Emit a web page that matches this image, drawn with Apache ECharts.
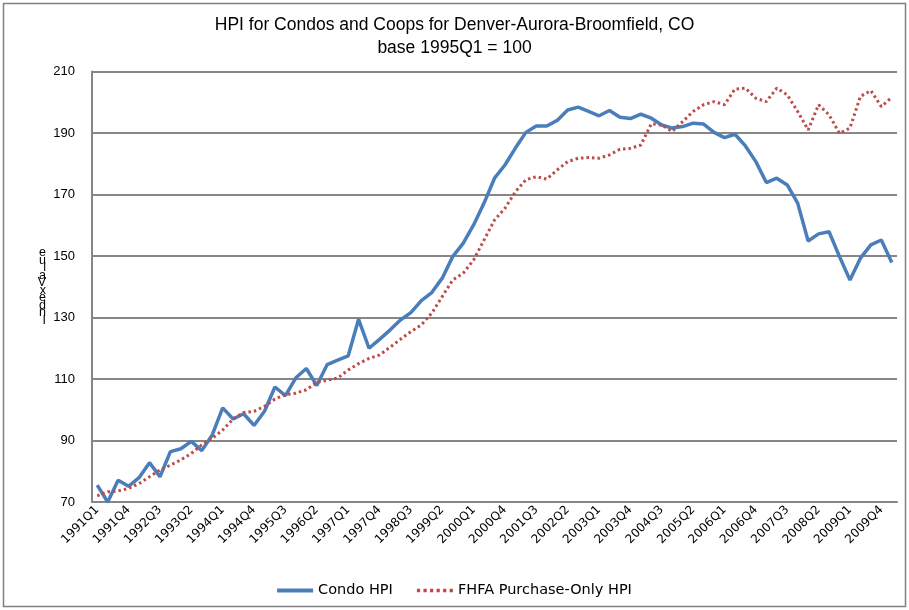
<!DOCTYPE html>
<html>
<head>
<meta charset="utf-8">
<script src="https://cdn.jsdelivr.net/npm/echarts@6/dist/echarts.min.js"></script>
<style>
  html, body { margin: 0; padding: 0; background: #fff; }
  #chart { width: 909px; height: 610px; }
</style>
</head>
<body>
<div id="chart"></div>
<script>
// quarters 1991Q1 .. 2010Q1
var quarters = [];
for (var y = 1991; y <= 2010; y++) {
  for (var q = 1; q <= 4; q++) {
    if (y === 2010 && q > 1) break;
    quarters.push(y + 'Q' + q);
  }
}

var condoHpi = [
  75.5, 70.0, 77.1, 75.1, 77.9, 82.8, 78.2, 86.4, 87.3, 89.7,
  86.7, 91.8, 100.6, 97.0, 98.7, 94.9, 99.5, 107.4, 104.6, 110.4,
  113.4, 107.9, 114.7, 116.1, 117.5, 129.4, 120.0, 122.9, 125.9, 129.2,
  131.6, 135.5, 138.1, 142.8, 149.8, 154.1, 160.1, 167.2, 175.3, 179.6,
  185.1, 190.2, 192.3, 192.3, 194.1, 197.5, 198.4, 197.0, 195.6, 197.3,
  195.1, 194.7, 196.1, 194.8, 192.6, 191.6, 192.1, 193.2, 192.9, 190.2,
  188.5, 189.6, 185.8, 180.7, 173.9, 175.3, 173.1, 167.2, 154.9, 157.2,
  157.9, 149.8, 142.2, 149.3, 153.6, 155.2, 147.9
];

var fhfaHpi = [
  72.0, 73.3, 73.6, 74.4, 76.0, 78.2, 80.4, 82.0, 83.7, 85.8,
  88.6, 90.7, 93.4, 97.0, 99.1, 99.5, 101.1, 103.5, 104.9, 105.4,
  106.5, 108.9, 109.6, 110.3, 112.9, 115.0, 116.7, 117.8, 120.3, 122.9,
  125.4, 127.6, 131.4, 136.8, 142.2, 144.4, 148.7, 155.2, 161.7, 165.5,
  170.9, 174.8, 175.8, 175.0, 178.0, 180.7, 181.8, 182.0, 181.8, 182.9,
  184.7, 185.0, 186.1, 193.0, 192.6, 190.5, 193.7, 197.0, 199.2, 200.2,
  199.2, 204.3, 204.6, 201.3, 200.2, 204.6, 202.4, 197.0, 191.0, 199.2,
  195.9, 189.9, 191.6, 201.9, 203.8, 198.6, 201.6
];

var yTicks = [70, 90, 110, 130, 150, 170, 190, 210];

var chart = echarts.init(document.getElementById('chart'));

chart.setOption({
  animation: false,
  backgroundColor: '#fff',
  graphic: [{
    type: 'rect',
    shape: { x: 3.5, y: 3.5, width: 902, height: 603 },
    style: { fill: 'none', stroke: '#808080', lineWidth: 1.5 },
    silent: true
  }],
  title: {
    text: 'HPI for Condos and Coops for Denver-Aurora-Broomfield, CO\nbase 1995Q1 = 100',
    left: 'center',
    top: 9,
    textStyle: {
      fontFamily: 'Liberation Sans',
      fontWeight: 'normal',
      fontSize: 17.5,
      lineHeight: 23,
      color: '#000'
    }
  },
  legend: {
    bottom: 7,
    left: 'center',
    itemWidth: 36,
    itemHeight: 4,
    itemGap: 24,
    textStyle: { fontFamily: 'DejaVu Sans', fontSize: 14.5, color: '#000' },
    data: [
      { name: 'Condo HPI', icon: 'path://M0,0 L36,0 L36,4 L0,4 Z' },
      { name: 'FHFA Purchase-Only HPI', icon: 'path://M0,0 L3,0 L3,3 L0,3 Z M6,0 L9,0 L9,3 L6,3 Z M12,0 L15,0 L15,3 L12,3 Z M18,0 L21,0 L21,3 L18,3 Z M24,0 L27,0 L27,3 L24,3 Z M30,0 L33,0 L33,3 L30,3 Z' }
    ]
  },
  grid: {
    left: 92,
    right: 12,
    top: 71.5,
    bottom: 108
  },
  xAxis: {
    type: 'category',
    data: quarters,
    boundaryGap: true,
    axisLine: { lineStyle: { color: '#868686', width: 2 } },
    axisTick: { show: false },
    axisLabel: {
      interval: 2,
      rotate: 45,
      fontFamily: 'DejaVu Sans',
      fontSize: 12,
      color: '#000',
      margin: 6
    },
    splitLine: { show: false }
  },
  yAxis: {
    type: 'value',
    min: yTicks[0],
    max: yTicks[yTicks.length - 1],
    interval: 20,
    name: 'e\nu\nl\na\nV\nx\ne\nd\nn\nI',
    nameLocation: 'middle',
    nameGap: 46,
    nameRotate: 0,
    nameTextStyle: {
      fontFamily: 'Liberation Sans',
      fontSize: 12.5,
      lineHeight: 7.5,
      color: '#000'
    },
    axisLine: { show: true, lineStyle: { color: '#868686', width: 2 } },
    axisTick: { show: false },
    axisLabel: {
      fontFamily: 'Liberation Sans',
      fontSize: 13,
      color: '#000',
      margin: 17
    },
    splitLine: { lineStyle: { color: '#868686', width: 2 } }
  },
  series: [
    {
      name: 'Condo HPI',
      type: 'line',
      data: condoHpi,
      symbol: 'none',
      color: '#4a7ebb',
      lineStyle: { color: '#4a7ebb', width: 3.5 },
      z: 3
    },
    {
      name: 'FHFA Purchase-Only HPI',
      type: 'line',
      data: fhfaHpi,
      symbol: 'none',
      color: '#be4b48',
      lineStyle: { color: '#be4b48', width: 3, type: [2.5, 3] },
      z: 4
    }
  ]
});
</script>
</body>
</html>
